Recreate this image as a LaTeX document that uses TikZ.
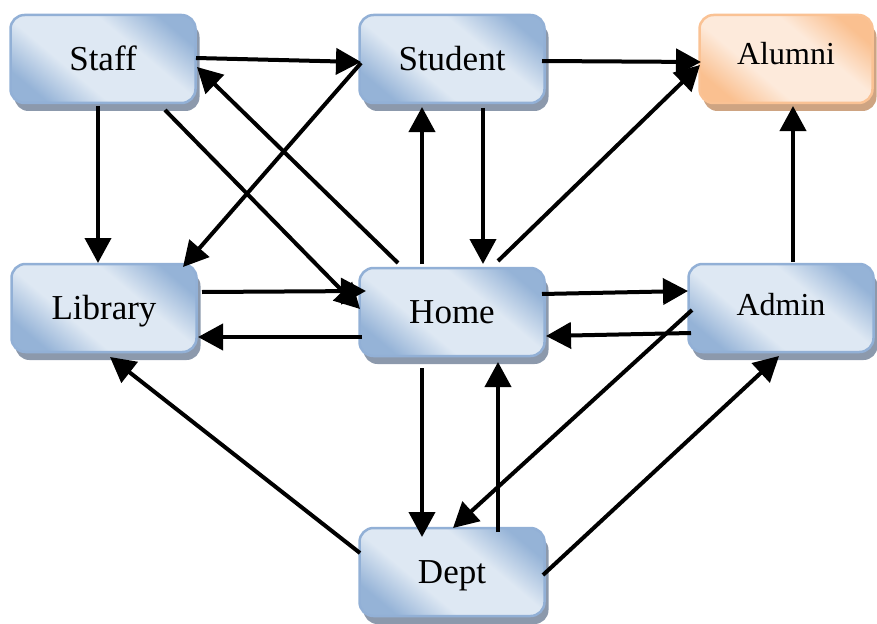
\documentclass[tikz,border=0pt]{standalone}
\usepackage{fontspec}
\setmainfont{Liberation Serif}
\usetikzlibrary{arrows.meta,shadows}
\definecolor{bdark}{RGB}{149,179,215}
\definecolor{blight}{RGB}{222,232,243}
\definecolor{bborder}{RGB}{146,176,214}
\definecolor{bshadow}{RGB}{140,153,172}
\definecolor{odark}{RGB}{250,192,144}
\definecolor{olight}{RGB}{253,234,219}
\definecolor{oborder}{RGB}{250,194,148}
\definecolor{oshadow}{RGB}{206,164,130}
\pgfdeclareverticalshading{blueshade}{100bp}{color(0bp)=(bdark); color(24bp)=(bdark); color(39bp)=(blight); color(61bp)=(blight); color(76bp)=(bdark); color(100bp)=(bdark)}
\pgfdeclareverticalshading{orangeshade}{100bp}{color(0bp)=(odark); color(24bp)=(odark); color(39bp)=(olight); color(61bp)=(olight); color(76bp)=(odark); color(100bp)=(odark)}
\begin{document}
\begin{tikzpicture}[x=1pt,y=-1pt,
  boxbase/.style={rounded corners=14pt, minimum width=185pt, minimum height=88pt,
    inner sep=0pt, line width=2.5pt,
    font=\fontsize{35}{40}\selectfont, text height=23pt, text depth=0pt},
  box/.style={boxbase, draw=bborder, shade, shading=blueshade, shading angle=-40,
    general shadow={fill=bshadow, shadow xshift=4pt, shadow yshift=-8pt}},
  obox/.style={boxbase, draw=oborder, shade, shading=orangeshade, shading angle=-40,
    general shadow={fill=oshadow, shadow xshift=4pt, shadow yshift=-8pt}},
  arr/.style={line width=4pt, -{Triangle[length=25pt,width=26pt]}}
]
\useasboundingbox (0,0) rectangle (877,623);

\node[box] (staff) at (103,59) {Staff};
\node[box] (student) at (452,59) {Student};
\node[obox, minimum width=173pt, font=\fontsize{32}{38}\selectfont, text height=21pt, text depth=9pt] (alumni) at (786,59) {Alumni};
\node[box] (library) at (104,308) {Library};
\node[box] (home) at (452,312) {Home};
\node[box, font=\fontsize{32}{38}\selectfont, text height=21pt, text depth=7pt] (admin) at (781,308) {Admin};
\node[box] (dept) at (452,572) {Dept};

\draw[arr] ([shift={(93,-1)}]staff.center) -- ([shift={(-91,3)}]student.center);
\draw[arr] ([shift={(-54,-49)}]home.center) -- ([shift={(94,8)}]staff.center);
\draw[arr] ([shift={(-5,47)}]staff.center) -- ([shift={(-6,-45)}]library.center);
\draw[arr] ([shift={(62,51)}]staff.center) -- ([shift={(-92,-3)}]home.center);
\draw[arr] ([shift={(-91,4)}]student.center) -- ([shift={(79,-41)}]library.center);
\draw[arr] ([shift={(90,2)}]student.center) -- ([shift={(-85,3)}]alumni.center);
\draw[arr] ([shift={(-30,-48)}]home.center) -- ([shift={(-30,48)}]student.center);
\draw[arr] ([shift={(31,49)}]student.center) -- ([shift={(31,-48)}]home.center);
\draw[arr] ([shift={(46,-51)}]home.center) -- ([shift={(-86,6)}]alumni.center);
\draw[arr] ([shift={(12,-46)}]admin.center) -- ([shift={(7,47)}]alumni.center);
\draw[arr] ([shift={(98,-16)}]library.center) -- ([shift={(-86,-21)}]home.center);
\draw[arr] ([shift={(-90,25)}]home.center) -- ([shift={(94,29)}]library.center);
\draw[arr] ([shift={(90,-18)}]home.center) -- ([shift={(-93,-17)}]admin.center);
\draw[arr] ([shift={(-90,25)}]admin.center) -- ([shift={(94,24)}]home.center);
\draw[arr] ([shift={(-30,56)}]home.center) -- ([shift={(-30,-35)}]dept.center);
\draw[arr] ([shift={(46,-40)}]dept.center) -- ([shift={(46,50)}]home.center);
\draw[arr] ([shift={(-89,2)}]admin.center) -- ([shift={(1,-44)}]dept.center);
\draw[arr] ([shift={(-92,-19)}]dept.center) -- ([shift={(6,49)}]library.center);
\draw[arr] ([shift={(91,3)}]dept.center) -- ([shift={(-2,48)}]admin.center);
\end{tikzpicture}
\end{document}
